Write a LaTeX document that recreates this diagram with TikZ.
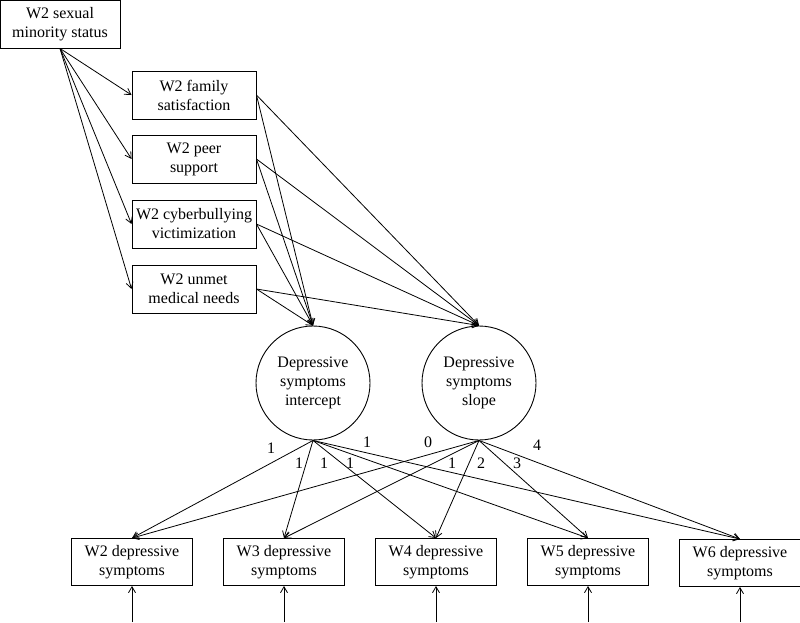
\documentclass[tikz,border=0pt]{standalone}
\usepackage{fontspec}
\setmainfont{Liberation Serif}
\usetikzlibrary{arrows.meta}
\begin{document}
\begin{tikzpicture}[x=1pt,y=-1pt,
  every node/.style={font=\fontsize{16}{19}\selectfont},
  obs/.style={draw, line width=0.9pt, rectangle, minimum width=121pt, minimum height=47pt, inner sep=0pt, align=center},
  med/.style={obs, minimum width=124pt, minimum height=48pt},
  lat/.style={draw, line width=0.9pt, circle, minimum size=114pt, inner sep=0pt, align=center},
  arr/.style={line width=0.8pt, -{Straight Barb[length=6pt,width=7pt]}},
  lbl/.style={inner sep=0pt}]
\useasboundingbox (0,0) rectangle (800,622);
% exogenous
\node[obs, minimum width=120pt, minimum height=48pt] (sms) at (60,24) {W2 sexual\\minority status};
% mediators
\node[med] (fam) at (194,95) {W2 family\\satisfaction};
\node[med] (peer) at (194,159) {W2 peer\\support};
\node[med] (cyb) at (194,224) {W2 cyberbullying\\victimization};
\node[med] (unm) at (194,289) {W2 unmet\\medical needs};
% latent
\node[lat] (int) at (313,383) {Depressive\\symptoms\\intercept};
\node[lat] (slo) at (479,383) {Depressive\\symptoms\\slope};
% observed
\node[obs] (y2) at (132,562) {W2 depressive\\symptoms};
\node[obs] (y3) at (284,562) {W3 depressive\\symptoms};
\node[obs] (y4) at (436,562) {W4 depressive\\symptoms};
\node[obs] (y5) at (588,562) {W5 depressive\\symptoms};
\node[obs] (y6) at (740,563) {W6 depressive\\symptoms};
% error terms
\coordinate (e2) at (132,622);
\coordinate (e3) at (284,622);
\coordinate (e4) at (436,622);
\coordinate (e5) at (588,622);
\coordinate (e6) at (740,622);
% paths
\foreach \m in {fam,peer,cyb,unm} {
  \draw[arr] (sms.south) -- (\m.west);
  \draw[arr] (\m.east) -- (int.north);
  \draw[arr] (\m.east) -- (slo.north);
}
\foreach \y in {y2,y3,y4,y5,y6} {
  \draw[arr] (int.south) -- (\y.north);
  \draw[arr] (slo.south) -- (\y.north);
}
\foreach \i in {2,3,4,5,6} {
  \draw[arr] (e\i) -- (y\i.south);
}
% loadings
\node[lbl] (l1) at (271,448) {1};
\node[lbl] (l2) at (299,463) {1};
\node[lbl] (l3) at (324,463) {1};
\node[lbl] (l4) at (350,463) {1};
\node[lbl] (l5) at (367,442) {1};
\node[lbl] (s0) at (428,442) {0};
\node[lbl] (s1) at (452,463) {1};
\node[lbl] (s2) at (481,463) {2};
\node[lbl] (s3) at (517,463) {3};
\node[lbl] (s4) at (537,445) {4};
\end{tikzpicture}
\end{document}
